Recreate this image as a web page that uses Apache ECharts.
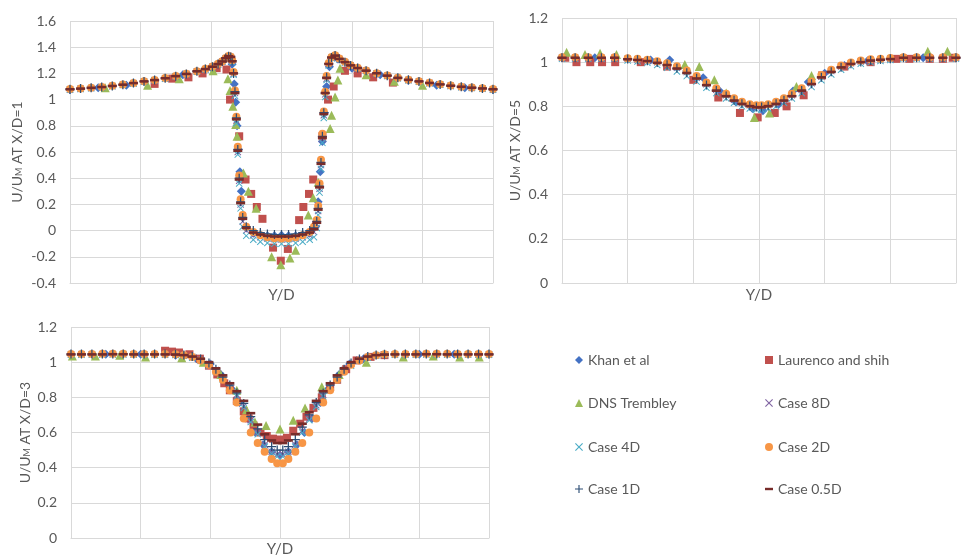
<!DOCTYPE html>
<html>
<head>
<meta charset="utf-8">
<script src="https://cdn.jsdelivr.net/npm/echarts@6/dist/echarts.min.js"></script>
<style>
  html, body { margin: 0; padding: 0; background: #fff; }
  #chart { width: 965px; height: 558px; }
</style>
</head>
<body>
<div id="chart"></div>
<script>
// ---- X/D = 1 ----
var yd1 = [-3.0,-2.85,-2.7,-2.55,-2.4,-2.25,-2.1,-1.95,-1.8,-1.65,-1.5,-1.35,-1.2,
  -1.08,-0.98,-0.9,-0.84,-0.79,-0.75,-0.72,-0.7,-0.68,-0.66,-0.64,-0.62,-0.6,-0.58,-0.55,-0.5,-0.4,-0.3,-0.2,-0.1,
  0,
  0.1,0.2,0.3,0.4,0.46,0.5,0.52,0.54,0.56,0.58,0.6,0.62,0.64,0.67,0.71,0.76,0.82,0.9,0.98,1.08,
  1.2,1.35,1.5,1.65,1.8,1.95,2.1,2.25,2.4,2.55,2.7,2.85,3.0];
var case8D_1 = [1.078,1.083,1.089,1.095,1.103,1.113,1.125,1.138,1.148,1.162,1.178,1.195,1.215,
  1.232,1.25,1.27,1.29,1.315,1.33,1.325,1.29,1.2,1.05,0.84,0.6,0.38,0.2,0.07,0.0,-0.035,-0.05,-0.06,-0.065,
  -0.068,
  -0.065,-0.06,-0.05,-0.035,-0.01,0.05,0.15,0.32,0.5,0.7,0.88,1.04,1.16,1.27,1.32,1.335,1.31,1.285,1.26,1.24,
  1.22,1.2,1.182,1.165,1.15,1.138,1.126,1.115,1.105,1.097,1.09,1.084,1.078];
var case4D_1 = [1.076,1.081,1.087,1.094,1.102,1.111,1.123,1.136,1.147,1.16,1.176,1.193,1.213,
  1.23,1.248,1.268,1.288,1.312,1.328,1.322,1.285,1.19,1.03,0.82,0.58,0.36,0.17,0.03,-0.04,-0.07,-0.085,-0.095,-0.1,
  -0.1,
  -0.1,-0.095,-0.085,-0.07,-0.05,0.02,0.12,0.29,0.47,0.67,0.86,1.02,1.15,1.26,1.315,1.33,1.308,1.283,1.258,1.238,
  1.218,1.198,1.18,1.163,1.148,1.136,1.124,1.113,1.103,1.095,1.088,1.082,1.076];
var case2D_1 = [1.08,1.085,1.09,1.097,1.105,1.115,1.127,1.14,1.15,1.164,1.18,1.197,1.217,
  1.235,1.253,1.273,1.293,1.318,1.333,1.328,1.3,1.21,1.07,0.87,0.64,0.42,0.24,0.12,0.03,-0.01,-0.035,-0.05,-0.058,
  -0.06,
  -0.058,-0.05,-0.035,-0.01,0.03,0.08,0.19,0.36,0.54,0.74,0.91,1.06,1.18,1.28,1.325,1.338,1.313,1.288,1.263,1.243,
  1.223,1.202,1.184,1.167,1.152,1.14,1.128,1.117,1.107,1.099,1.092,1.086,1.08];
var case1D_1 = [1.079,1.084,1.09,1.096,1.104,1.114,1.126,1.139,1.149,1.163,1.179,1.196,1.216,
  1.233,1.251,1.271,1.291,1.316,1.331,1.326,1.295,1.2,1.06,0.86,0.62,0.4,0.22,0.1,0.03,0.0,-0.015,-0.025,-0.03,
  -0.03,
  -0.03,-0.025,-0.015,0.0,0.02,0.07,0.17,0.34,0.52,0.72,0.9,1.05,1.17,1.275,1.322,1.336,1.311,1.286,1.261,1.241,
  1.221,1.201,1.183,1.166,1.151,1.139,1.127,1.116,1.106,1.098,1.091,1.085,1.079];
var case05D_1 = [1.079,1.084,1.09,1.096,1.104,1.114,1.126,1.139,1.149,1.163,1.179,1.196,1.216,
  1.233,1.251,1.271,1.291,1.316,1.331,1.326,1.292,1.2,1.05,0.85,0.61,0.39,0.21,0.09,0.02,-0.015,-0.03,-0.04,-0.045,
  -0.045,
  -0.045,-0.04,-0.03,-0.015,0.01,0.06,0.16,0.33,0.51,0.71,0.89,1.05,1.165,1.272,1.321,1.336,1.311,1.286,1.261,1.241,
  1.221,1.201,1.183,1.166,1.151,1.139,1.127,1.116,1.106,1.098,1.091,1.085,1.079];
var khanX1 = [-3.0,-2.6,-2.2,-1.8,-1.4,-1.0,-0.8,-0.7,-0.67,-0.65,-0.63,-0.61,-0.59,-0.57,-0.5,-0.4,-0.3,-0.2,-0.1,0,
  0.1,0.2,0.3,0.4,0.48,0.52,0.55,0.58,0.61,0.64,0.68,0.8,1.0,1.4,1.8,2.2,2.6,3.0];
var khanY1 = [1.075,1.09,1.11,1.145,1.19,1.245,1.31,1.27,1.12,0.98,0.8,0.62,0.45,0.3,0.02,-0.02,-0.03,-0.04,-0.04,-0.035,
  -0.04,-0.04,-0.03,-0.02,0.03,0.22,0.45,0.68,0.9,1.1,1.25,1.31,1.24,1.19,1.145,1.11,1.09,1.075];
var laurX1 = [-1.8,-1.55,-1.32,-1.12,-0.92,-0.78,-0.73,-0.6,-0.51,-0.43,-0.35,-0.27,-0.12,-0.01,0.09,0.25,0.31,0.39,0.45,0.58,
  0.66,0.74,0.9,1.08,1.3,1.58];
var laurY1 = [1.12,1.16,1.17,1.2,1.24,1.23,1.0,0.72,0.39,0.28,0.18,0.09,-0.13,-0.23,-0.14,0.08,0.18,0.28,0.39,0.72,
  1.0,1.1,1.22,1.2,1.17,1.13];
var dnsX1 = [-2.5,-1.9,-1.45,-0.97,-0.76,-0.73,-0.69,-0.65,-0.63,-0.54,-0.47,-0.36,-0.14,-0.01,0.12,0.2,0.38,0.45,0.52,0.69,
  0.71,0.76,0.8,0.83,1.2,1.6,2.0];
var dnsY1 = [1.09,1.11,1.16,1.22,1.16,1.07,0.95,0.81,0.72,0.44,0.3,0.17,-0.2,-0.26,-0.21,-0.15,0.12,0.25,0.37,0.78,
  0.88,1.02,1.15,1.24,1.19,1.14,1.11];

// ---- X/D = 5 ----
var yd5 = [-3.0,-2.8,-2.6,-2.4,-2.2,-2.0,-1.85,-1.7,-1.55,-1.4,-1.25,-1.1,-0.95,-0.8,-0.65,-0.5,-0.38,-0.26,-0.14,-0.04,
  0.04,0.14,0.26,0.38,0.5,0.65,0.8,0.95,1.1,1.25,1.4,1.55,1.7,1.85,2.0,2.2,2.4,2.6,2.8,3.0];
var case8D_5 = [1.02,1.02,1.02,1.02,1.02,1.015,1.012,1.008,1.0,0.99,0.975,0.955,0.93,0.9,0.875,0.85,0.83,0.815,0.805,0.8,
  0.8,0.805,0.815,0.83,0.85,0.875,0.905,0.935,0.96,0.98,0.995,1.003,1.01,1.013,1.016,1.02,1.02,1.02,1.02,1.02];
var case4D_5 = [1.015,1.015,1.015,1.015,1.015,1.008,1.003,0.997,0.987,0.975,0.958,0.937,0.912,0.884,0.86,0.836,0.816,0.8,0.79,0.785,
  0.785,0.79,0.8,0.816,0.836,0.86,0.888,0.918,0.944,0.966,0.982,0.993,1.0,1.005,1.01,1.015,1.015,1.015,1.015,1.015];
var case2D_5 = [1.022,1.022,1.022,1.022,1.022,1.018,1.015,1.011,1.004,0.995,0.981,0.962,0.937,0.908,0.882,0.857,0.837,0.821,0.81,0.805,
  0.805,0.81,0.821,0.837,0.857,0.882,0.912,0.942,0.966,0.985,0.999,1.007,1.013,1.016,1.019,1.022,1.022,1.022,1.022,1.022];
var case1D_5 = [1.02,1.02,1.02,1.02,1.02,1.014,1.011,1.006,0.998,0.988,0.972,0.952,0.927,0.897,0.872,0.847,0.827,0.812,0.802,0.797,
  0.797,0.802,0.812,0.827,0.847,0.872,0.902,0.932,0.957,0.977,0.993,1.001,1.008,1.012,1.015,1.02,1.02,1.02,1.02,1.02];
var case05D_5 = [1.02,1.02,1.02,1.02,1.02,1.013,1.01,1.005,0.997,0.987,0.971,0.951,0.926,0.896,0.871,0.846,0.826,0.811,0.801,0.796,
  0.796,0.801,0.811,0.826,0.846,0.871,0.901,0.931,0.956,0.976,0.992,1.0,1.007,1.011,1.014,1.02,1.02,1.02,1.02,1.02];
var khanX5 = [-3.0,-2.5,-2.0,-1.65,-1.36,-1.1,-0.85,-0.6,-0.35,-0.1,0.06,0.3,0.52,0.75,1.0,1.3,1.65,2.0,2.5,3.0];
var khanY5 = [1.02,1.02,1.015,1.01,1.01,0.96,0.93,0.87,0.82,0.79,0.78,0.81,0.87,0.91,0.95,0.985,1.005,1.015,1.02,1.02];
var laurX5 = [-2.95,-2.78,-2.57,-2.39,-2.19,-1.8,-1.4,-1.0,-0.62,-0.29,-0.02,0.24,0.42,0.68,0.96,1.3,1.7,2.09,2.29,2.6,2.8,2.95];
var laurY5 = [1.02,1.0,1.0,1.0,1.0,1.0,0.98,0.92,0.84,0.77,0.75,0.77,0.8,0.85,0.94,0.98,1.0,1.015,1.015,1.015,1.015,1.02];
var dnsX5 = [-2.93,-2.65,-2.42,-2.17,-1.13,-0.91,-0.68,-0.5,-0.07,0.16,0.57,0.8,2.57,2.87];
var dnsY5 = [1.045,1.035,1.04,1.035,0.99,0.98,0.92,0.86,0.75,0.77,0.89,0.94,1.05,1.05];

// ---- X/D = 3 ----
var yd3 = [-3.0,-2.85,-2.7,-2.55,-2.4,-2.25,-2.1,-1.95,-1.8,-1.65,-1.5,-1.38,-1.26,-1.14,-1.02,-0.92,-0.82,-0.72,-0.62,-0.52,-0.42,-0.32,-0.22,-0.12,-0.04,
  0.04,0.12,0.22,0.32,0.42,0.52,0.62,0.72,0.82,0.92,1.02,1.14,1.26,1.38,1.5,1.65,1.8,1.95,2.1,2.25,2.4,2.55,2.7,2.85,3.0];
var case8D_3 = [1.045,1.045,1.045,1.045,1.046,1.046,1.045,1.045,1.045,1.045,1.044,1.04,1.03,1.015,0.99,0.955,0.91,0.865,0.815,0.75,0.67,0.6,0.53,0.49,0.475,
  0.475,0.49,0.53,0.61,0.68,0.755,0.815,0.865,0.91,0.955,0.99,1.015,1.03,1.04,1.044,1.045,1.045,1.045,1.046,1.046,1.045,1.045,1.045,1.045,1.045];
var case4D_3 = [1.042,1.042,1.043,1.043,1.043,1.043,1.043,1.042,1.042,1.042,1.041,1.036,1.025,1.008,0.98,0.945,0.9,0.855,0.805,0.74,0.66,0.59,0.52,0.48,0.463,
  0.463,0.48,0.52,0.6,0.67,0.745,0.805,0.855,0.9,0.945,0.98,1.008,1.025,1.036,1.041,1.042,1.042,1.042,1.043,1.043,1.043,1.043,1.043,1.042,1.042];
var case2D_3 = [1.047,1.047,1.047,1.048,1.048,1.048,1.047,1.047,1.047,1.047,1.045,1.04,1.03,1.01,0.985,0.945,0.9,0.84,0.77,0.68,0.6,0.54,0.49,0.45,0.425,
  0.425,0.45,0.49,0.54,0.6,0.68,0.77,0.84,0.9,0.945,0.985,1.01,1.03,1.04,1.045,1.047,1.047,1.047,1.048,1.048,1.048,1.047,1.047,1.047,1.047];
var case1D_3 = [1.046,1.046,1.046,1.046,1.047,1.047,1.046,1.046,1.046,1.046,1.045,1.041,1.032,1.018,0.995,0.96,0.915,0.87,0.825,0.765,0.69,0.62,0.56,0.52,0.5,
  0.5,0.52,0.56,0.63,0.7,0.77,0.825,0.87,0.915,0.96,0.995,1.018,1.032,1.041,1.045,1.046,1.046,1.046,1.047,1.047,1.046,1.046,1.046,1.046,1.046];
var case05D_3 = [1.044,1.044,1.044,1.044,1.045,1.045,1.044,1.044,1.044,1.044,1.043,1.04,1.032,1.02,1.0,0.965,0.925,0.88,0.835,0.78,0.71,0.645,0.59,0.555,0.54,
  0.54,0.555,0.59,0.65,0.715,0.78,0.835,0.88,0.925,0.965,1.0,1.02,1.032,1.04,1.043,1.044,1.044,1.044,1.045,1.045,1.044,1.044,1.044,1.044,1.044];
var khanX3 = [-3.0,-2.5,-2.0,-1.5,-1.2,-1.0,-0.85,-0.7,-0.58,-0.46,-0.35,-0.24,-0.12,0,0.12,0.24,0.35,0.46,0.58,0.7,0.85,1.0,1.2,1.5,2.0,2.5,3.0];
var khanY3 = [1.045,1.045,1.045,1.04,1.02,0.99,0.93,0.85,0.77,0.68,0.6,0.53,0.49,0.47,0.49,0.53,0.6,0.68,0.77,0.85,0.93,0.99,1.02,1.04,1.045,1.045,1.045];
var laurX3 = [-1.65,-1.55,-1.45,-1.3,-1.15,-1.02,-0.9,-0.8,-0.72,-0.62,-0.52,-0.45,-0.38,-0.28,-0.19,-0.1,0,0.1,0.19,0.29,
  0.38,0.48,0.6,0.72,0.82,0.95,1.1,1.3,1.5];
var laurY3 = [1.065,1.06,1.055,1.045,1.02,0.98,0.93,0.88,0.84,0.78,0.72,0.68,0.64,0.6,0.58,0.565,0.56,0.57,0.61,0.65,
  0.69,0.74,0.8,0.86,0.9,0.96,1.01,1.03,1.04];
var dnsX3 = [-2.98,-2.65,-2.3,-1.93,-1.41,-1.1,-0.85,-0.62,-0.48,-0.36,-0.2,0,0.19,0.36,0.6,0.85,1.24,1.77,2.2,2.58,2.86];
var dnsY3 = [1.035,1.035,1.04,1.03,1.025,1.0,0.93,0.84,0.73,0.66,0.64,0.62,0.67,0.74,0.86,0.93,1.0,1.03,1.035,1.03,1.03];

var names = ['Khan et al', 'Laurenco and shih', 'DNS Trembley', 'Case 8D', 'Case 4D', 'Case 2D', 'Case 1D', 'Case 0.5D'];

// marker look per series (Excel-like)
var X_PATH = 'path://M0,1 L1,0 L5,4 L9,0 L10,1 L6,5 L10,9 L9,10 L5,6 L1,10 L0,9 L4,5 Z';
var PLUS_PATH = 'path://M4.3,0 H5.7 V4.3 H10 V5.7 H5.7 V10 H4.3 V5.7 H0 V4.3 H4.3 Z';
var DASH_PATH = 'path://M0,0 H10 V3 H0 Z';
var looks = [
  { color: '#4472C4', symbol: 'diamond', size: 9 },
  { color: '#C0504D', symbol: 'rect', size: 8 },
  { color: '#9BBB59', symbol: 'triangle', size: 9 },
  { color: '#8064A2', symbol: X_PATH, size: 7 },
  { color: '#4BACC6', symbol: X_PATH, size: 7 },
  { color: '#F79646', symbol: 'circle', size: 8 },
  { color: '#2C4D75', symbol: PLUS_PATH, size: 9 },
  { color: '#772C2A', symbol: DASH_PATH, size: [9, 2.6] }
];

function pairs(xs, ys) {
  return xs.map(function (x, i) { return [x, ys[i]]; });
}

var plots = [
  { xs: yd1, cases: [case8D_1, case4D_1, case2D_1, case1D_1, case05D_1],
    exp: [[khanX1, khanY1], [laurX1, laurY1], [dnsX1, dnsY1]] },
  { xs: yd5, cases: [case8D_5, case4D_5, case2D_5, case1D_5, case05D_5],
    exp: [[khanX5, khanY5], [laurX5, laurY5], [dnsX5, dnsY5]] },
  { xs: yd3, cases: [case8D_3, case4D_3, case2D_3, case1D_3, case05D_3],
    exp: [[khanX3, khanY3], [laurX3, laurY3], [dnsX3, dnsY3]] }
];

var series = [];
plots.forEach(function (p, k) {
  names.forEach(function (name, j) {
    var data = j < 3 ? pairs(p.exp[j][0], p.exp[j][1]) : pairs(p.xs, p.cases[j - 3]);
    series.push({
      name: name,
      type: 'scatter',
      xAxisIndex: k,
      yAxisIndex: k,
      symbol: looks[j].symbol,
      symbolSize: looks[j].size,
      itemStyle: { color: looks[j].color, opacity: 1 },
      emphasis: { disabled: true },
      data: data
    });
  });
});

var txt = '#595959';
var gridColor = '#d9d9d9';
var font = 'Lato';

function xAxisOf(k, gap) {
  return {
    gridIndex: k, type: 'value', min: -3, max: 3, interval: 1,
    name: 'Y/D', nameLocation: 'middle', nameGap: gap,
    nameTextStyle: { fontFamily: font, fontSize: 15, color: txt },
    axisLabel: { show: false }, axisTick: { show: false },
    axisLine: { show: true, onZero: false, lineStyle: { color: gridColor } },
    splitLine: { show: true, lineStyle: { color: gridColor } }
  };
}
function yAxisOf(k, min, max, title, gap) {
  return {
    gridIndex: k, type: 'value', min: min, max: max, interval: 0.2,
    name: title, nameLocation: 'middle', nameGap: gap,
    nameTextStyle: {
      fontFamily: font, fontSize: 14, color: txt,
      rich: { m: { fontFamily: font, fontSize: 9, color: txt, verticalAlign: 'bottom', lineHeight: 14 } }
    },
    axisLabel: { fontFamily: font, fontSize: 14, color: txt, margin: 14 },
    axisTick: { show: false }, axisLine: { show: false },
    splitLine: { show: true, lineStyle: { color: gridColor } }
  };
}

var rowTops = [348, 391, 435, 477];
var legends = names.map(function (n, i) {
  return {
    data: [n], orient: 'horizontal',
    left: i % 2 ? 760 : 570, top: rowTops[Math.floor(i / 2)],
    itemWidth: 8, itemHeight: 8, itemGap: 0,
    selectedMode: false,
    textStyle: { fontFamily: font, fontSize: 14, color: txt }
  };
});

var chart = echarts.init(document.getElementById('chart'));
chart.setOption({
  animation: false,
  backgroundColor: '#fff',
  grid: [
    { left: 70, top: 21, width: 423, height: 262 },
    { left: 562, top: 18, width: 394, height: 265 },
    { left: 71, top: 327, width: 418, height: 212 }
  ],
  xAxis: [xAxisOf(0, 5), xAxisOf(1, 5), xAxisOf(2, 4)],
  yAxis: [
    yAxisOf(0, -0.4, 1.6, 'U/U{m|M} AT X/D=1', 46),
    yAxisOf(1, 0, 1.2, 'U/U{m|M} AT X/D=5', 40),
    yAxisOf(2, 0, 1.2, 'U/U{m|M} AT X/D=3', 39)
  ],
  legend: legends,
  series: series
});
</script>
</body>
</html>
